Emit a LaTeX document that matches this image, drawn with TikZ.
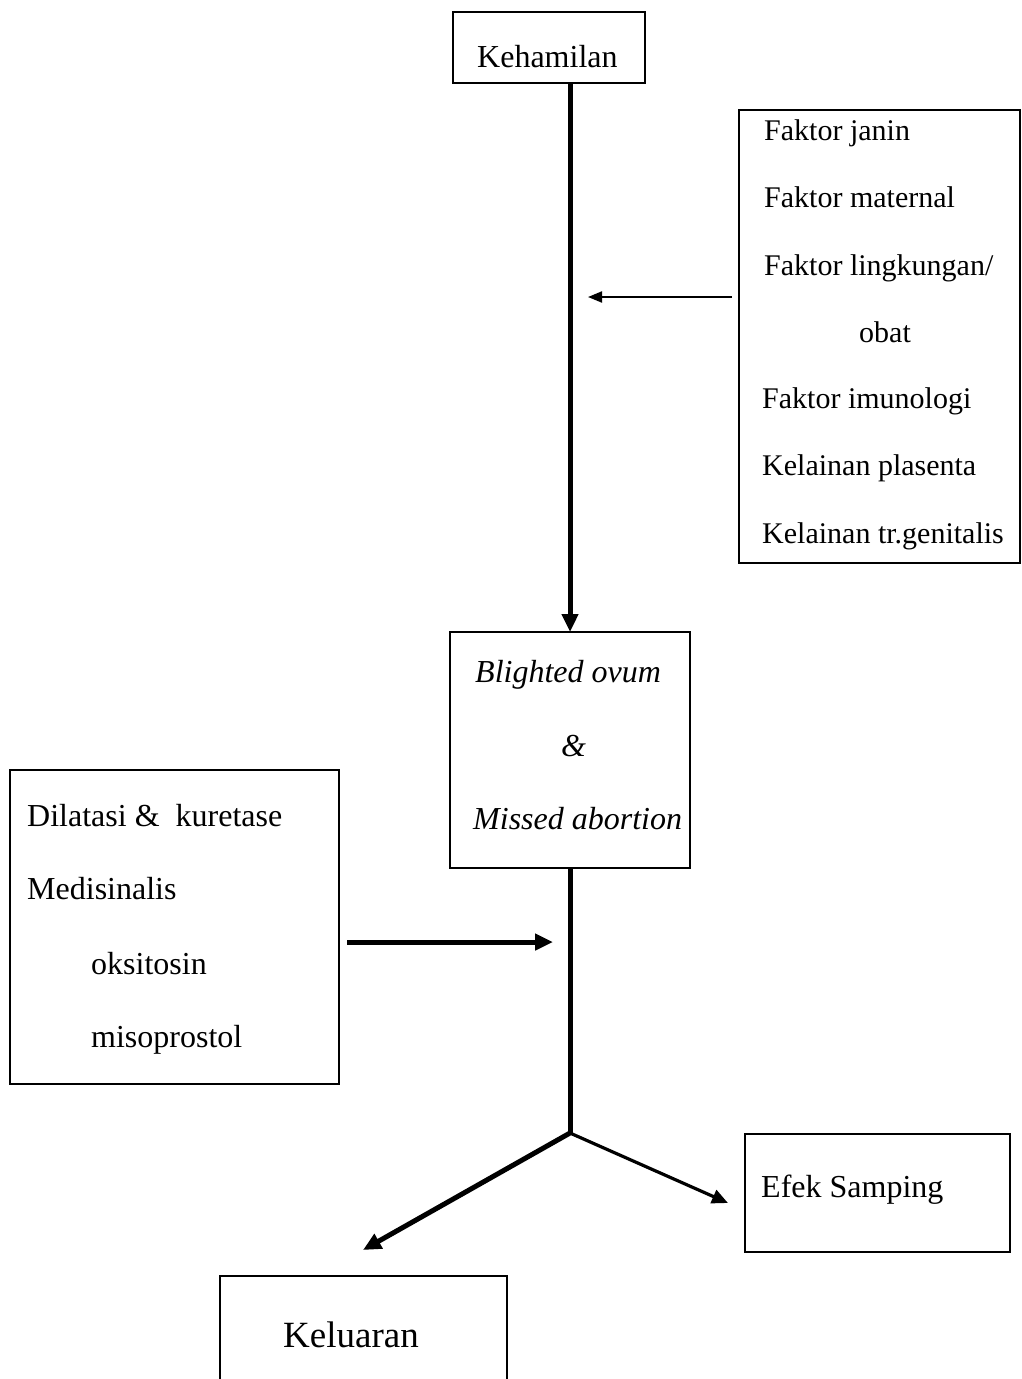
\documentclass[tikz,border=0pt]{standalone}
\usepackage{fontspec}
\setmainfont{Liberation Serif}
\usetikzlibrary{arrows.meta}
\begin{document}
\begin{tikzpicture}[x=1pt,y=-1pt,
  box/.style={draw,line width=1.6pt,inner sep=0pt,outer sep=0pt},
  txt/.style={anchor=base west,inner sep=0pt,font=\fontsize{30}{36}\selectfont},
  txtb/.style={anchor=base west,inner sep=0pt,font=\fontsize{32}{38}\selectfont},
  txti/.style={anchor=base west,inner sep=0pt,font=\fontsize{32}{38}\selectfont\itshape},
  heavy/.style={line width=5pt,-{Triangle[length=18pt,width=16pt]}},
  medium/.style={line width=3.2pt,-{Triangle[length=16pt,width=14pt]}},
  light/.style={line width=2pt,-{Triangle[length=14pt,width=11pt]}}]
\useasboundingbox (0,0) rectangle (1021,1379);
% boxes
\node[box,minimum width=192pt,minimum height=71pt] (keh) at (549,47.5) {};
\node[box,minimum width=281pt,minimum height=453pt] (fak) at (879.5,336.5) {};
\node[box,minimum width=240pt,minimum height=236pt] (bo) at (570,750) {};
\node[box,minimum width=329pt,minimum height=314pt] (med) at (174.5,927) {};
\node[box,minimum width=265pt,minimum height=118pt] (efek) at (877.5,1193) {};
\node[box,minimum width=287pt,minimum height=124pt] (kel) at (363.5,1338) {};
% texts
\node[txtb] (t1) at (477,67) {Kehamilan};
\node[txt] (f1) at (764,140) {Faktor janin};
\node[txt] (f2) at (764,207) {Faktor maternal};
\node[txt] (f3) at (764,275) {Faktor lingkungan/};
\node[txt] (f4) at (859,342) {obat};
\node[txt] (f5) at (762,408) {Faktor imunologi};
\node[txt] (f6) at (762,475) {Kelainan plasenta};
\node[txt] (f7) at (762,543) {Kelainan tr.genitalis};
\node[txti] (b1) at (475,682) {Blighted ovum};
\node[txti] (b2) at (561,756) {\&};
\node[txti] (b3) at (473,829) {Missed abortion};
\node[txtb] (m1) at (27,826) {Dilatasi \&\ \ kuretase};
\node[txtb] (m2) at (27,899) {Medisinalis};
\node[txtb] (m3) at (91,974) {oksitosin};
\node[txtb] (m4) at (91,1047) {misoprostol};
\node[txtb] (e1) at (761,1197) {Efek Samping};
\node[anchor=base west,inner sep=0pt,font=\fontsize{37}{44}\selectfont] (k1) at (283,1347) {Keluaran};
% connectors
\coordinate (fa) at (732,297);
\coordinate (fb) at (588,297);
\coordinate (ma) at (347,942);
\coordinate (mb) at (553,942);
\coordinate (fork) at (570,1133);
\coordinate (kt) at (363,1250);
\coordinate (et) at (728,1203);
\draw[heavy] (keh.south -| bo.north) -- (bo.north);
\draw[light] (fa) -- (fb);
\draw[line width=5pt] (bo.south) -- (fork);
\draw[heavy] (ma) -- (mb);
\draw[heavy] (fork) -- (kt);
\draw[medium] (fork) -- (et);
\end{tikzpicture}
\end{document}
